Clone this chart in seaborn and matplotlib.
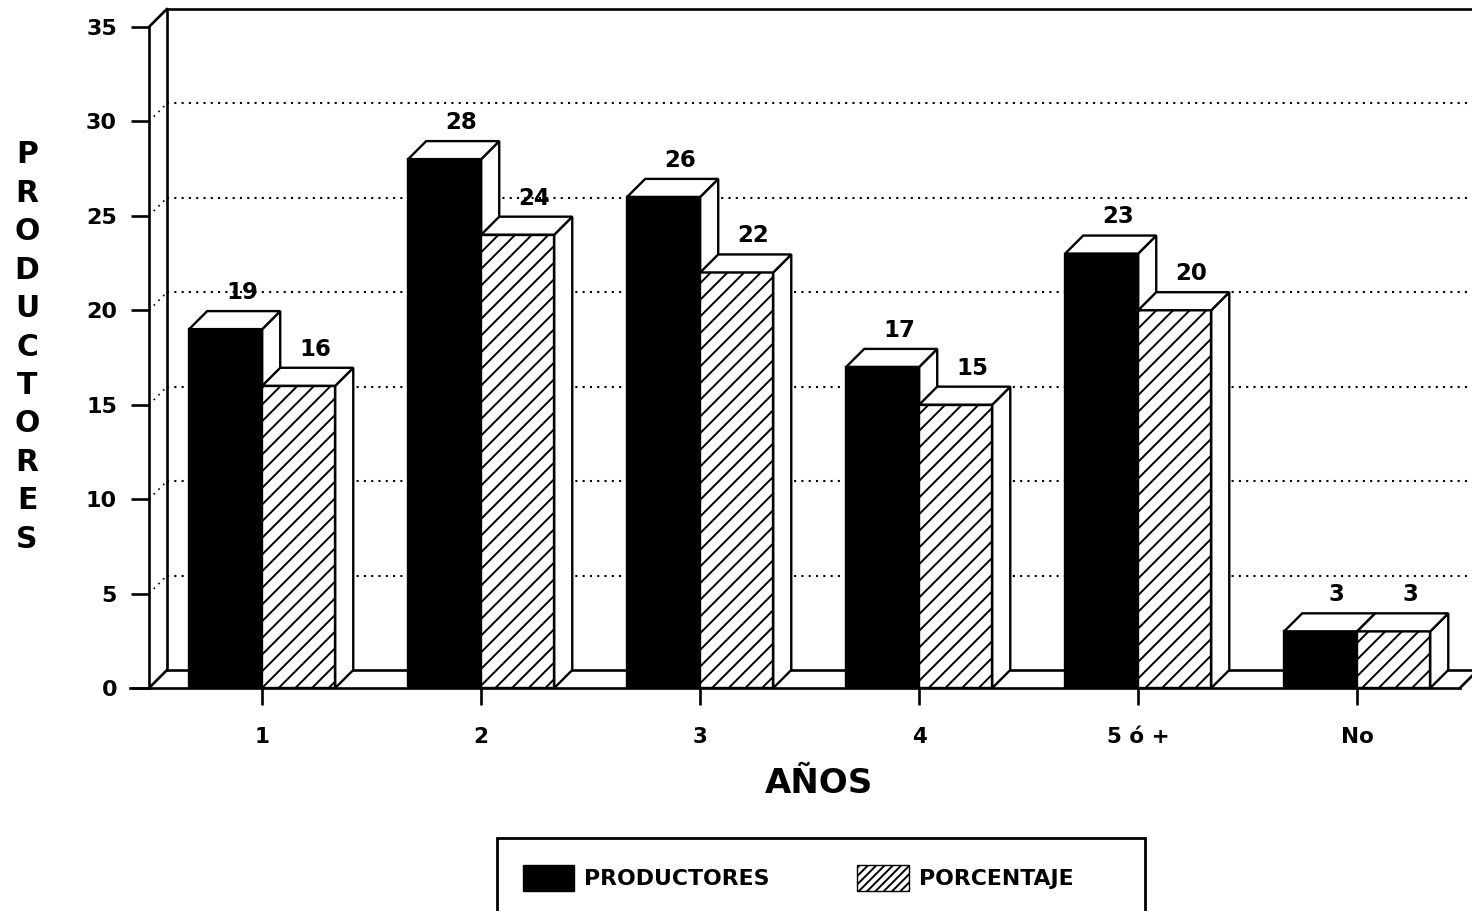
import numpy as np
import pandas as pd
import matplotlib
matplotlib.use("Agg")
import matplotlib.pyplot as plt
import seaborn as sns
from matplotlib.patches import Polygon, Rectangle, Patch

# Data
anos = ["1", "2", "3", "4", "5 ó +", "No"]
productores = [19, 28, 26, 17, 23, 3]
porcentaje = [16, 24, 22, 15, 20, 3]
series = ["PRODUCTORES", "PORCENTAJE"]
y_ticks = [0, 5, 10, 15, 20, 25, 30, 35]

sns.set_theme(style="white")
plt.rcParams["font.family"] = ["DejaVu Sans"]
plt.rcParams["font.weight"] = "bold"
plt.rcParams["text.color"] = "black"
plt.rcParams["hatch.linewidth"] = 1.4
plt.rcParams["hatch.color"] = "black"

W, H = 1472, 911
fig = plt.figure(figsize=(W / 100, H / 100), dpi=100)
fig.patch.set_facecolor("white")

# plot area (front y axis to right edge, baseline to top of back wall)
left_px, right_px, base_px, top_px = 149, 1472, 688, 8
ax = fig.add_axes([left_px / W, 1 - base_px / H,
                   (right_px - left_px) / W, (base_px - top_px) / H])
YMAX = 36
XL, XR = -0.517, 5.524
ax.set_xlim(XL, XR)
ax.set_ylim(0, YMAX)

# depth offset of the pseudo-3D look
px_per_cat = (right_px - left_px) / (XR - XL)
px_per_val = (base_px - top_px) / YMAX
DX = 18 / px_per_cat
DY = 18 / px_per_val

df = pd.DataFrame({
    "AÑOS": anos * 2,
    "valor": productores + porcentaje,
    "serie": [series[0]] * len(anos) + [series[1]] * len(anos),
})

sns.barplot(data=df, x="AÑOS", y="valor", hue="serie", order=anos,
            hue_order=series, palette=["black", "white"], width=0.667,
            gap=0, dodge=True, errorbar=None, edgecolor="black",
            linewidth=1.6, legend=False, ax=ax)

ax.set_xlim(XL, XR)
ax.set_ylim(0, YMAX)

LW = 1.9
# back wall, floor and grid
wall_x = XL + DX
ax.plot([wall_x, wall_x], [DY, 35 + DY], color="black", lw=LW, zorder=1, clip_on=False)
ax.plot([wall_x, XR + 0.1], [35 + DY, 35 + DY], color="black", lw=LW, zorder=1, clip_on=False)
ax.plot([XL, wall_x], [35, 35 + DY], color="black", lw=LW, zorder=1, clip_on=False)
ax.plot([XL, wall_x], [0, DY], color="black", lw=LW, zorder=1, clip_on=False)
ax.plot([wall_x, XR + 0.1], [DY, DY], color="black", lw=LW, zorder=1, clip_on=False)
floor_end = 5.469
ax.plot([floor_end, floor_end + DX], [0, DY], color="black", lw=LW, zorder=1, clip_on=False)
for v in y_ticks[1:-1]:
    ax.plot([wall_x, XR], [v + DY, v + DY], color="black", lw=1.5,
            ls=(0, (1, 2.5)), zorder=1)
    ax.plot([XL, wall_x], [v, v + DY], color="black", lw=1.2,
            ls=(0, (1, 3)), zorder=1)

# faces of each bar
for k, cont in enumerate(ax.containers):
    base_z = 3 + 2 * k
    for bar in cont:
        x0 = bar.get_x()
        x1 = x0 + bar.get_width()
        h = bar.get_height()
        bar.set_zorder(base_z)
        bar.set_linewidth(1.7)
        bar.set_edgecolor("black")
        if k == 1:
            bar.set_facecolor("white")
            bar.set_hatch("//")
        top = Polygon([(x0, h), (x0 + DX, h + DY), (x1 + DX, h + DY), (x1, h)],
                      closed=True, facecolor="white", edgecolor="black",
                      lw=1.7, zorder=base_z + 0.5, joinstyle="miter")
        side = Polygon([(x1, 0), (x1, h), (x1 + DX, h + DY), (x1 + DX, DY)],
                       closed=True, facecolor="white", edgecolor="black",
                       lw=1.7, zorder=base_z + 0.5, joinstyle="miter")
        ax.add_patch(side)
        ax.add_patch(top)
        ax.text((x0 + x1) / 2 + 0.9 * DX, h + DY + 0.64, f"{h:.0f}",
                ha="center", va="baseline", fontsize=16.5, fontweight="bold",
                color="black", zorder=10)

# axes lines and ticks
for s in ["top", "right"]:
    ax.spines[s].set_visible(False)
ax.spines["left"].set_bounds(0, 35)
ax.spines["bottom"].set_bounds(XL - 0.085, floor_end)
for s in ["left", "bottom"]:
    ax.spines[s].set_linewidth(LW)
    ax.spines[s].set_color("black")
    ax.spines[s].set_zorder(2)

ax.set_yticks(y_ticks)
ax.set_yticklabels([str(t) for t in y_ticks])
ax.tick_params(axis="y", direction="out", length=13, width=LW, pad=10,
               labelsize=16, colors="black", left=True)
ax.tick_params(axis="x", direction="out", length=12, width=LW, pad=16,
               labelsize=15.5, colors="black", bottom=True)
for lab in ax.get_xticklabels() + ax.get_yticklabels():
    lab.set_fontweight("bold")
    lab.set_color("black")
ax.set_xlabel("")
ax.set_ylabel("")
ax.grid(False)
ax.set_facecolor("white")

# axis titles
fig.text(27 / W, 1 - 347 / H, "\n".join("PRODUCTORES"), ha="center",
         va="center", fontsize=21.5, fontweight="bold", linespacing=1.41,
         multialignment="center", color="black")
fig.text(819 / W, 1 - 793 / H, "AÑOS", ha="center", va="baseline",
         fontsize=24.5, fontweight="bold", color="black")

# legend
fig.add_artist(Rectangle((497 / W, -0.05), (1145 - 497) / W,
                         (911 - 838) / H + 0.05, transform=fig.transFigure,
                         fill=False, edgecolor="black", lw=2))
handles = [Patch(facecolor="black", edgecolor="black"),
           Patch(facecolor="white", edgecolor="black", hatch="////")]
leg = fig.legend(handles=handles, labels=series, ncol=2, frameon=False,
                 loc="center", bbox_to_anchor=(798 / W, 1 - 878 / H),
                 prop={"size": 15.8, "weight": "bold"}, handlelength=2.35,
                 handleheight=1.45, handletextpad=0.45, columnspacing=4.0)
for t in leg.get_texts():
    t.set_color("black")

fig.savefig("out.png", dpi=100, facecolor="white")
